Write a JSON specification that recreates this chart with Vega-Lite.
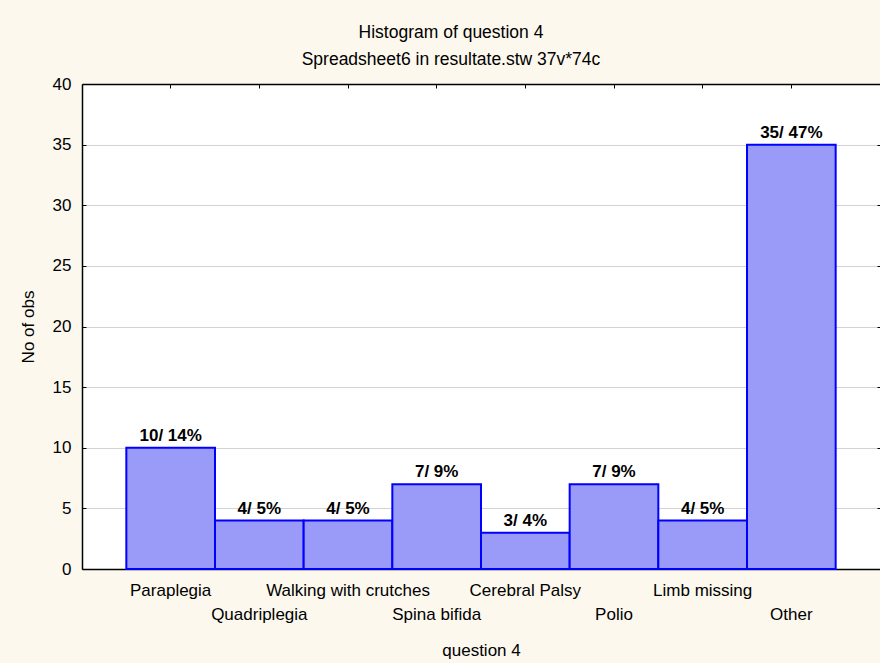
{
  "$schema": "https://vega.github.io/schema/vega-lite/v6.json",
  "width": 798,
  "height": 485,
  "autosize": "none",
  "padding": {"left": 82, "top": 84, "right": 0, "bottom": 94},
  "background": "#fcf8ee",
  "title": {
    "text": "Histogram of question 4",
    "subtitle": "Spreadsheet6 in resultate.stw  37v*74c",
    "anchor": "middle",
    "dx": -30,
    "offset": 7,
    "font": "Liberation Sans",
    "fontSize": 17.5,
    "fontWeight": "normal",
    "color": "#000000",
    "subtitleFont": "Liberation Sans",
    "subtitleFontSize": 17.5,
    "subtitleColor": "#000000",
    "subtitlePadding": 9
  },
  "data": {
    "values": [
      {"category": "Paraplegia", "count": 10, "label": "10/ 14%"},
      {"category": "Quadriplegia", "count": 4, "label": "4/ 5%"},
      {"category": "Walking with crutches", "count": 4, "label": "4/ 5%"},
      {"category": "Spina bifida", "count": 7, "label": "7/ 9%"},
      {"category": "Cerebral Palsy", "count": 3, "label": "3/ 4%"},
      {"category": "Polio", "count": 7, "label": "7/ 9%"},
      {"category": "Limb missing", "count": 4, "label": "4/ 5%"},
      {"category": "Other", "count": 35, "label": "35/ 47%"}
    ]
  },
  "layer": [
    {
      "mark": {"type": "bar", "fill": "#9a9af8", "stroke": "#0000ff", "strokeWidth": 2},
      "encoding": {
        "x": {
          "field": "category",
          "type": "nominal",
          "sort": null,
          "scale": {
            "domain": ["Paraplegia", "Quadriplegia", "Walking with crutches", "Spina bifida", "Cerebral Palsy", "Polio", "Limb missing", "Other"],
            "paddingInner": 0,
            "paddingOuter": 0.5
          },
          "axis": {
            "orient": "bottom",
            "title": "question 4",
            "titlePadding": 20,
            "labelAngle": 0,
            "labelBaseline": "top",
            "labelOverlap": false,
            "labelLimit": 0,
            "labelBound": false,
            "tickSize": -4,
            "labelPadding": {"condition": {"test": "indexof(['Quadriplegia','Spina bifida','Polio','Other'], datum.value) >= 0", "value": 41}, "value": 17},
            "grid": false,
            "domain": true
          }
        },
        "y": {
          "field": "count",
          "type": "quantitative",
          "scale": {"domain": [0, 40], "nice": false},
          "axis": {
            "orient": "left",
            "title": "No of obs",
            "titlePadding": 15,
            "values": [0, 5, 10, 15, 20, 25, 30, 35, 40],
            "tickSize": -4,
            "labelPadding": 15,
            "grid": true,
            "gridColor": "#d3d3d3",
            "gridWidth": 1,
            "domain": true
          }
        }
      }
    },
    {
      "mark": {"type": "text", "baseline": "bottom", "dy": -3, "fontWeight": "bold", "fontSize": 17, "font": "Liberation Sans", "color": "#000000"},
      "encoding": {
        "x": {
          "field": "category",
          "type": "nominal",
          "sort": null,
          "axis": {"orient": "top", "labels": false, "title": null, "tickSize": -4, "grid": false, "domain": true}
        },
        "y": {
          "field": "count",
          "type": "quantitative",
          "axis": {"orient": "right", "labels": false, "title": null, "values": [0, 5, 10, 15, 20, 25, 30, 35, 40], "tickSize": -3, "grid": false, "domain": false, "domainOpacity": 0, "domainColor": "transparent"}
        },
        "text": {"field": "label"}
      }
    }
  ],
  "resolve": {"axis": {"x": "independent", "y": "independent"}},
  "config": {
    "view": {"fill": "white", "stroke": null, "strokeWidth": 0},
    "axis": {
      "labelFont": "Liberation Sans",
      "titleFont": "Liberation Sans",
      "labelFontSize": 17,
      "titleFontSize": 17,
      "titleFontWeight": "normal",
      "labelColor": "#000000",
      "titleColor": "#000000",
      "domainColor": "#000000",
      "domainWidth": 1.5,
      "tickColor": "#000000"
    }
  }
}
